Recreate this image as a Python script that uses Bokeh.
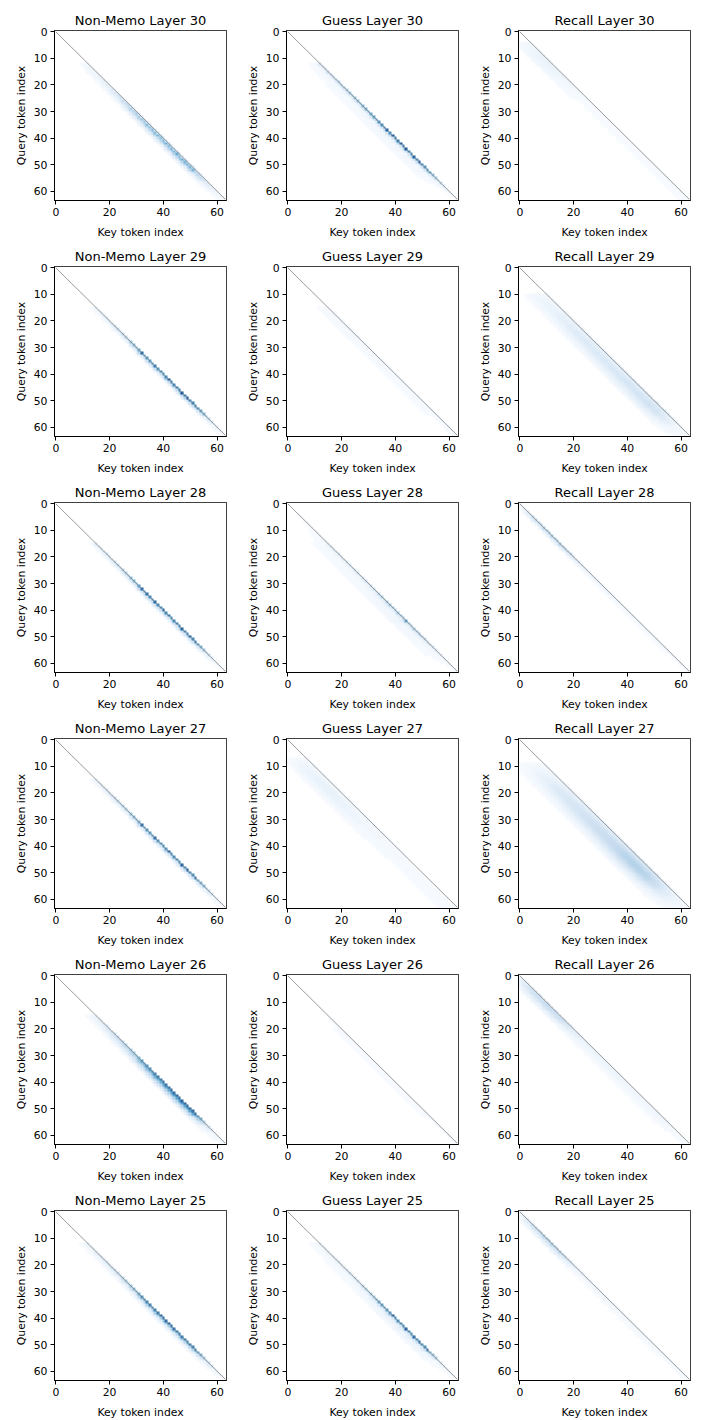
import numpy as np
from bokeh.plotting import figure
from bokeh.layouts import gridplot
from bokeh.models import LinearColorMapper, FixedTicker
from bokeh.palettes import Blues256
from bokeh.embed import file_html
from bokeh.resources import INLINE

# ---------------- data ----------------
N_TOKENS = 64
GROUPS = ["Non-Memo", "Guess", "Recall"]
LAYERS = [30, 29, 28, 27, 26, 25]
X_TICKS = [0, 20, 40, 60]
Y_TICKS = [0, 10, 20, 30, 40, 50, 60]
X_LABEL = "Key token index"
Y_LABEL = "Query token index"

# Each panel: per-query-row band strength (percent of colour scale, rows 0..63)
# and the relative profile of that band by offset below the diagonal (0 = key == query).
NM30_ROWS = [0, 0, 0, 0, 0, 0, 0, 0, 0, 0, 0, 0, 3, 4, 4, 5,
             5, 6, 7, 8, 9, 10, 12, 13, 15, 17, 20, 22, 25, 28, 28, 32,
             30, 35, 33, 38, 36, 40, 38, 42, 36, 40, 44, 38, 42, 40, 45, 40,
             44, 42, 46, 40, 42, 30, 25, 22, 18, 12, 10, 8, 6, 4, 3, 2]
NM30_PROF = [0.4, 1.0, 0.6, 0.25, 0.08]

GU30_ROWS = [0, 0, 0, 0, 0, 0, 0, 0, 0, 0, 0, 0, 15, 18, 20, 22,
             22, 24, 25, 26, 28, 30, 30, 32, 34, 35, 36, 38, 40, 42, 44, 45,
             48, 50, 52, 55, 58, 75, 55, 78, 60, 62, 75, 60, 78, 58, 55, 75,
             55, 75, 55, 52, 50, 48, 35, 30, 25, 20, 12, 8, 5, 3, 2, 1]
GU30_PROF = [1.0, 0.3, 0.08, 0.04, 0.03, 0.02, 0.015]

RE30_ROWS = [0, 0, 0, 0, 3, 5, 6, 8, 8, 10, 10, 10, 10, 10, 9, 9,
             8, 8, 7, 6, 5, 4, 3, 2, 2, 2, 1, 1, 1, 1, 1, 1,
             1, 1, 1, 1, 1, 1, 1, 1, 1, 1, 1, 1, 1, 1, 1, 1,
             1, 1, 1, 1, 1, 1, 1, 1, 1, 1, 1, 1, 1, 1, 1, 1]
RE30_PROF = [0.5, 0.7, 0.6, 0.5, 0.4, 0.3, 0.2]

NM29_ROWS = [0, 0, 0, 0, 0, 0, 0, 0, 0, 0, 0, 0, 0, 0, 0, 6,
             8, 10, 10, 12, 14, 16, 18, 20, 22, 24, 26, 28, 35, 38, 40, 45,
             72, 50, 52, 50, 55, 65, 52, 55, 54, 58, 80, 60, 58, 60, 62, 80,
             62, 80, 60, 62, 58, 55, 45, 40, 30, 22, 15, 10, 8, 5, 3, 2]
NM29_PROF = [1.0, 0.35, 0.1]

GU29_ROWS = [0, 0, 0, 0, 0, 0, 0, 0, 0, 0, 0, 0, 0, 0, 0, 2,
             3, 3, 3, 3, 4, 4, 4, 4, 4, 4, 4, 4, 3, 3, 3, 3,
             3, 3, 3, 3, 3, 3, 3, 3, 2, 2, 2, 2, 2, 2, 2, 2,
             2, 2, 2, 2, 2, 2, 2, 2, 1, 1, 1, 1, 1, 1, 1, 1]
GU29_PROF = [0.6, 0.5, 0.4, 0.3, 0.2]

RE29_ROWS = [0, 0, 0, 0, 0, 0, 0, 0, 0, 0, 3, 4, 5, 5, 6, 6,
             7, 7, 8, 8, 9, 9, 10, 10, 11, 11, 11, 12, 12, 12, 12, 12,
             13, 13, 13, 13, 13, 13, 14, 14, 14, 14, 15, 15, 15, 15, 15, 16,
             16, 16, 17, 17, 17, 16, 16, 14, 12, 10, 8, 6, 4, 3, 2, 1]
RE29_PROF = [0.8, 0.7, 0.9, 1.0, 1.0, 0.8, 0.6, 0.4, 0.25, 0.1]

NM28_ROWS = [0, 0, 0, 0, 0, 0, 0, 0, 0, 0, 0, 0, 0, 0, 0, 12,
             14, 15, 16, 16, 18, 20, 22, 24, 25, 28, 30, 35, 38, 40, 42, 50,
             72, 55, 70, 58, 56, 72, 58, 56, 72, 58, 65, 56, 58, 60, 56, 74,
             58, 56, 72, 58, 62, 48, 40, 32, 28, 20, 12, 8, 5, 3, 2, 1]
NM28_PROF = [1.0, 0.3, 0.1]

GU28_ROWS = [0, 0, 0, 0, 1, 1, 1, 2, 2, 2, 3, 3, 4, 4, 6, 8,
             12, 12, 12, 13, 13, 14, 14, 14, 15, 16, 16, 17, 18, 18, 19, 20,
             20, 22, 24, 26, 28, 30, 32, 30, 30, 32, 30, 32, 48, 30, 28, 30,
             28, 30, 26, 24, 20, 18, 15, 12, 10, 8, 6, 5, 4, 3, 2, 2]
GU28_PROF = [1.0, 0.3, 0.15, 0.1, 0.08, 0.06, 0.05]

RE28_ROWS = [4, 5, 8, 12, 18, 22, 25, 25, 28, 28, 30, 30, 30, 30, 30, 30,
             28, 28, 25, 22, 20, 16, 12, 10, 9, 8, 8, 8, 7, 7, 7, 6,
             6, 6, 6, 5, 5, 5, 4, 4, 4, 4, 4, 4, 3, 3, 3, 3,
             3, 3, 3, 3, 3, 3, 3, 3, 3, 2, 2, 2, 2, 2, 2, 2]
RE28_PROF = [1.0, 0.4, 0.15]

NM27_ROWS = [0, 0, 0, 0, 0, 0, 0, 0, 0, 0, 0, 0, 0, 0, 0, 8,
             12, 14, 15, 16, 18, 20, 22, 24, 25, 26, 28, 30, 35, 38, 40, 42,
             70, 50, 52, 50, 52, 70, 52, 50, 55, 52, 75, 55, 56, 55, 54, 75,
             55, 78, 56, 54, 65, 42, 40, 38, 30, 22, 18, 12, 8, 5, 3, 2]
NM27_PROF = [1.0, 0.3, 0.1]

GU27_ROWS = [0, 0, 0, 0, 0, 0, 0, 2, 3, 4, 5, 5, 6, 6, 7, 7,
             7, 7, 7, 7, 7, 7, 7, 6, 6, 6, 5, 5, 5, 4, 4, 4,
             3, 3, 3, 3, 3, 3, 2, 2, 2, 2, 2, 2, 2, 1, 1, 1,
             1, 1, 1, 1, 1, 1, 1, 1, 1, 1, 1, 1, 1, 1, 1, 1]
GU27_PROF = [0.3, 0.5, 0.8, 1.0, 1.0, 0.9, 0.7, 0.5, 0.3, 0.15]

RE27_ROWS = [0, 0, 0, 0, 0, 0, 0, 0, 0, 2, 3, 4, 5, 6, 7, 8,
             9, 10, 11, 12, 13, 13, 14, 14, 15, 15, 16, 16, 17, 17, 18, 18,
             19, 19, 20, 20, 21, 21, 22, 22, 23, 24, 25, 26, 27, 27, 28, 28,
             28, 27, 27, 26, 25, 23, 21, 18, 15, 12, 10, 8, 6, 4, 3, 2]
RE27_PROF = [0.5, 0.6, 0.8, 0.95, 1.0, 1.0, 0.9, 0.75, 0.55, 0.4, 0.25, 0.15, 0.08]

NM26_ROWS = [0, 0, 0, 0, 0, 0, 0, 0, 0, 0, 0, 0, 0, 0, 0, 6,
             8, 10, 12, 14, 16, 18, 20, 22, 24, 26, 28, 30, 32, 35, 38, 40,
             50, 52, 55, 55, 58, 60, 62, 62, 65, 65, 66, 68, 68, 70, 70, 72,
             72, 70, 72, 70, 68, 50, 42, 30, 22, 15, 10, 6, 4, 3, 2, 1]
NM26_PROF = [1.0, 0.7, 0.4, 0.2, 0.08]

GU26_ROWS = [0, 0, 0, 0, 0, 0, 0, 0, 0, 0, 0, 0, 0, 0, 0, 0,
             1, 1, 1, 1, 2, 2, 2, 2, 2, 2, 2, 2, 2, 2, 2, 2,
             2, 2, 2, 2, 2, 2, 2, 2, 2, 2, 2, 2, 2, 2, 2, 2,
             2, 2, 2, 2, 2, 2, 1, 1, 1, 1, 1, 1, 1, 1, 1, 1]
GU26_PROF = [0.5, 0.4, 0.3, 0.2]

RE26_ROWS = [2, 4, 8, 10, 14, 16, 18, 20, 20, 20, 22, 22, 22, 22, 20, 20,
             20, 18, 16, 14, 12, 10, 9, 8, 7, 6, 6, 6, 5, 5, 5, 5,
             5, 5, 5, 5, 5, 5, 5, 5, 4, 4, 4, 4, 4, 4, 4, 4,
             4, 4, 4, 4, 4, 3, 3, 3, 2, 2, 2, 1, 1, 1, 1, 1]
RE26_PROF = [0.8, 1.0, 0.8, 0.5, 0.3, 0.15]

NM25_ROWS = [0, 0, 0, 0, 0, 0, 0, 0, 0, 0, 0, 0, 8, 9, 10, 10,
             12, 14, 15, 16, 18, 20, 20, 22, 24, 26, 30, 32, 35, 38, 40, 45,
             55, 58, 60, 62, 58, 60, 65, 70, 68, 70, 72, 68, 66, 64, 62, 64,
             62, 60, 62, 60, 58, 45, 40, 30, 25, 20, 15, 10, 6, 4, 2, 1]
NM25_PROF = [1.0, 0.45, 0.15, 0.05]

GU25_ROWS = [0, 0, 0, 0, 0, 0, 0, 0, 0, 0, 0, 0, 8, 9, 10, 10,
             10, 12, 12, 14, 14, 15, 15, 16, 16, 18, 18, 20, 24, 26, 28, 30,
             32, 45, 46, 48, 50, 50, 52, 75, 55, 55, 56, 55, 75, 55, 54, 70,
             55, 70, 54, 55, 65, 40, 35, 30, 15, 12, 10, 6, 4, 3, 2, 1]
GU25_PROF = [1.0, 0.3, 0.12, 0.08, 0.05, 0.03]

RE25_ROWS = [3, 5, 8, 12, 18, 20, 22, 24, 26, 28, 30, 30, 30, 30, 28, 26,
             24, 22, 18, 15, 12, 10, 8, 7, 6, 5, 5, 5, 4, 4, 4, 3,
             3, 3, 3, 3, 3, 3, 3, 3, 3, 3, 3, 3, 3, 3, 3, 3,
             3, 3, 3, 3, 3, 3, 3, 2, 2, 2, 2, 2, 2, 2, 2, 1]
RE25_PROF = [1.0, 0.6, 0.3, 0.15]

PANEL_DATA = [
    (NM30_ROWS, NM30_PROF), (GU30_ROWS, GU30_PROF), (RE30_ROWS, RE30_PROF),
    (NM29_ROWS, NM29_PROF), (GU29_ROWS, GU29_PROF), (RE29_ROWS, RE29_PROF),
    (NM28_ROWS, NM28_PROF), (GU28_ROWS, GU28_PROF), (RE28_ROWS, RE28_PROF),
    (NM27_ROWS, NM27_PROF), (GU27_ROWS, GU27_PROF), (RE27_ROWS, RE27_PROF),
    (NM26_ROWS, NM26_PROF), (GU26_ROWS, GU26_PROF), (RE26_ROWS, RE26_PROF),
    (NM25_ROWS, NM25_PROF), (GU25_ROWS, GU25_PROF), (RE25_ROWS, RE25_PROF),
]

# ---------------- build ----------------
FONT = "DejaVu Sans"
cmap = LinearColorMapper(palette=list(reversed(Blues256)), low=0.004, high=0.9,
                         low_color="white")


def build_matrix(rows, prof):
    m = np.zeros((N_TOKENS, N_TOKENS))
    for q in range(N_TOKENS):
        for off, w in enumerate(prof):
            k = q - off
            if k >= 0:
                m[q, k] = rows[q] / 100.0 * w
    return m


figs = []
i = 0
for r, layer in enumerate(LAYERS):
    for c, group in enumerate(GROUPS):
        rows, prof = PANEL_DATA[i]
        i += 1
        m = build_matrix(rows, prof)
        p = figure(
            frame_width=172, frame_height=170,
            x_range=(-0.5, N_TOKENS - 0.5), y_range=(N_TOKENS - 0.5, -0.5),
            output_backend="svg", toolbar_location=None, tools="",
            min_border_left=54 if c == 0 else 46, min_border_right=14,
            min_border_top=30 if r == 0 else 22, min_border_bottom=43,
            title=f"{group} Layer {layer}",
        )
        p.image(image=[m], x=-0.5, y=-0.5, dw=N_TOKENS, dh=N_TOKENS, color_mapper=cmap)
        p.line(x=[0, N_TOKENS - 1], y=[0, N_TOKENS - 1], line_color="#808080", line_width=0.8)

        p.title.text_font = FONT
        p.title.text_font_size = "13px"
        p.title.text_font_style = "normal"
        p.title.align = "center"
        p.title.text_color = "black"
        p.title.standoff = 6

        p.xgrid.visible = False
        p.ygrid.visible = False
        p.outline_line_color = "black"
        p.outline_line_width = 1
        p.background_fill_color = "white"
        p.border_fill_color = "white"

        p.xaxis.ticker = FixedTicker(ticks=X_TICKS, minor_ticks=[])
        p.yaxis.ticker = FixedTicker(ticks=Y_TICKS, minor_ticks=[])
        p.xaxis.axis_label = X_LABEL
        p.yaxis.axis_label = Y_LABEL
        for ax in (p.xaxis[0], p.yaxis[0]):
            ax.axis_line_color = "black"
            ax.axis_line_width = 1
            ax.major_tick_out = 4
            ax.major_tick_in = 0
            ax.major_tick_line_color = "black"
            ax.minor_tick_line_color = None
            ax.major_label_text_font = FONT
            ax.major_label_text_font_size = "10.8px"
            ax.major_label_text_color = "black"
            ax.major_label_standoff = 3
            ax.axis_label_text_font = FONT
            ax.axis_label_text_font_size = "10.8px"
            ax.axis_label_text_font_style = "normal"
            ax.axis_label_text_color = "black"
        p.xaxis.axis_label_standoff = 7
        p.yaxis.axis_label_standoff = 3
        p.yaxis.major_label_orientation = "horizontal"
        figs.append(p)

grid = gridplot(figs, ncols=3, toolbar_location=None)

open("out.html", "w").write(file_html(grid, INLINE))
